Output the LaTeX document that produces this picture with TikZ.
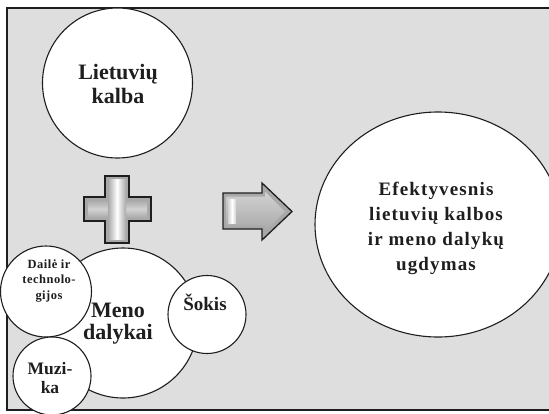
\documentclass[tikz,border=0pt]{standalone}
\usepackage{fontspec}
\setmainfont{Liberation Serif}
\newfontfamily\spacedbold[LetterSpace=6]{Liberation Serif Bold}
\newfontfamily\tightbold[LetterSpace=4]{Liberation Serif Bold}
\usetikzlibrary{shapes.geometric}
\definecolor{panel}{HTML}{DEDEDE}
\definecolor{ink}{HTML}{1E1E1E}
\definecolor{steel}{HTML}{A8A8A8}
\definecolor{steellight}{HTML}{D2D2D2}
\tikzset{
  bubble/.style={circle, draw=ink, line width=1.1pt, fill=white, inner sep=0pt},
  oval/.style={ellipse, draw=ink, line width=1.1pt, fill=white, inner sep=0pt},
  caption/.style={align=center, inner sep=0pt, text=ink},
  bevel/.style={draw=ink, line width=1.3pt, line join=miter, fill=steel}
}
\begin{document}
\begin{tikzpicture}[x=1pt, y=-1pt]
  \useasboundingbox (0,0) rectangle (549,413);
  \clip (0,0) rectangle (549,413);
  % panel
  \draw[line width=1.5pt, draw=ink, fill=panel] (7,8) rectangle (580,410);

  % source subject
  \node[bubble, minimum size=150pt] (lt) at (117.5,83) {};
  \node[caption, font=\bfseries\fontsize{22}{24}\selectfont] (lt-t) at (118,84) {Lietuvių\\kalba};

  % plus sign
  \path[bevel] (105,176) -- (129,176) -- (129,197) -- (151,197) -- (151,221)
     -- (129,221) -- (129,243) -- (105,243) -- (105,221) -- (84,221)
     -- (84,197) -- (105,197) -- cycle;
  \shade[top color=steel, bottom color=steel, middle color=steellight]
     (88,200) rectangle (147,218);
  \shade[left color=steel, right color=steel, middle color=white]
     (108,179.5) rectangle (126,239.5);

  % arrow
  \path[bevel] (223,193) -- (262,193) -- (262,183) -- (292,211.5)
     -- (262,240) -- (262,229) -- (223,229) -- cycle;
  \shade[top color=steellight, bottom color=steel]
     (226.5,196.5) -- (265,196.5) -- (265,191.5) -- (285,211.5)
     -- (265,231.5) -- (265,225.5) -- (226.5,225.5) -- cycle;
  \shade[left color=steellight, right color=steellight, middle color=white]
     (228,199) rectangle (236,223);

  % result
  \node[oval, minimum width=246pt, minimum height=225pt] (goal) at (438,224.5) {};
  \node[caption, font=\spacedbold\fontsize{19}{25}\selectfont] (goal-t) at (436,228)
     {Efektyvesnis\\lietuvių kalbos\\ir meno dalykų\\ugdymas};

  % arts subjects
  \node[bubble, minimum size=150pt] (arts) at (123,323) {};
  \node[caption, font=\bfseries\fontsize{22}{22}\selectfont] (arts-t) at (118,324) {Meno\\dalykai};

  \node[bubble, minimum size=91pt] (craft) at (46,291.5) {};
  \node[caption, font=\tightbold\fontsize{12.5}{15.5}\selectfont] (craft-t) at (49,281)
     {Dailė ir\\technolo-\\gijos};

  \node[bubble, minimum size=78pt] (music) at (52,376) {};
  \node[caption, font=\bfseries\fontsize{17.5}{19}\selectfont] (music-t) at (50,378) {Muzi-\\ka};

  \node[bubble, minimum size=78pt] (dance) at (207,314.5) {};
  \node[caption, font=\bfseries\fontsize{19}{22}\selectfont] (dance-t) at (205,302) {Šokis};
\end{tikzpicture}
\end{document}
